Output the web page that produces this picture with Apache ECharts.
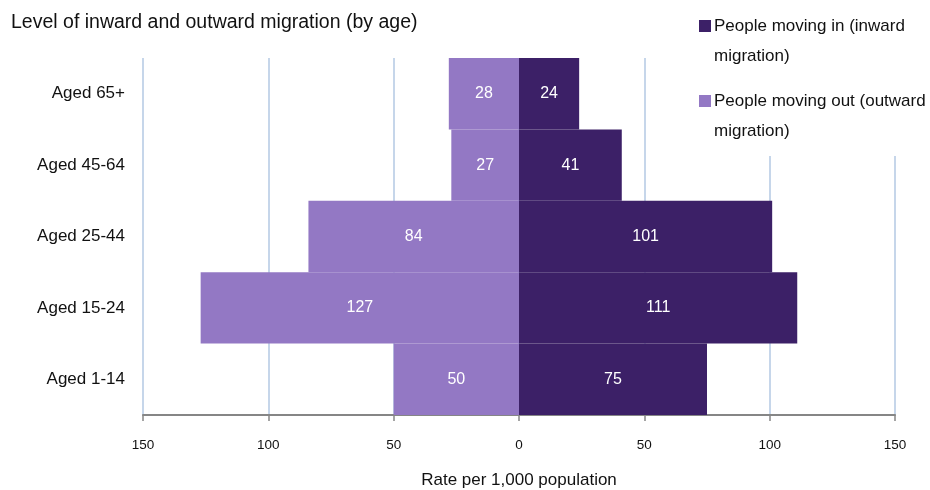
<!DOCTYPE html>
<html>
<head>
<meta charset="utf-8">
<script src="https://cdn.jsdelivr.net/npm/echarts@6/dist/echarts.min.js"></script>
<style>
  html, body { margin: 0; padding: 0; background: #fff; }
  #chart { width: 930px; height: 490px; }
</style>
</head>
<body>
<div id="chart"></div>
<script>
// Age bands, bottom to top
const ageGroups = ['Aged 1-14', 'Aged 15-24', 'Aged 25-44', 'Aged 45-64', 'Aged 65+'];
// Rate per 1,000 population
const movingIn = [75, 111, 101, 41, 24];
const movingOut = [50, 127, 84, 27, 28];
const xTicks = [-150, -100, -50, 0, 50, 100, 150];

const FONT = '"Liberation Sans", Arial, sans-serif';
const DARK = '#3c2067';
const LIGHT = '#9378c4';

const chart = echarts.init(document.getElementById('chart'), null, { renderer: 'canvas' });

// Legend labels wrap onto two lines; a blank leading line keeps the
// first line level with the colour swatch.
const legendText = {
  in: ' \nPeople moving in (inward\nmigration)',
  out: ' \nPeople moving out (outward\nmigration)'
};

chart.setOption({
  animation: false,
  textStyle: { fontFamily: FONT },
  title: {
    text: 'Level of inward and outward migration (by age)',
    left: 6,
    top: 8,
    textStyle: { fontFamily: FONT, fontSize: 19.5, fontWeight: 'normal', color: '#111' }
  },
  legend: {
    orient: 'vertical',
    left: 680,
    top: -29,
    itemWidth: 12,
    itemHeight: 12,
    itemGap: -15,
    backgroundColor: '#fff',
    padding: [10, 20, 10, 19],
    data: [
      { name: 'in', icon: 'rect' },
      { name: 'out', icon: 'rect' }
    ],
    formatter: n => legendText[n],
    textStyle: {
      fontFamily: FONT,
      fontSize: 17,
      color: '#111',
      lineHeight: 30,
      padding: [0, 0, 0, -2]
    }
  },
  grid: { left: 143, right: 35, top: 58, bottom: 75, outerBoundsMode: 'none', containLabel: false },
  xAxis: {
    type: 'value',
    min: xTicks[0],
    max: xTicks[xTicks.length - 1],
    interval: 50,
    name: 'Rate per 1,000 population',
    nameLocation: 'middle',
    nameGap: 57,
    nameTextStyle: { fontFamily: FONT, fontSize: 17, color: '#111' },
    axisLine: { show: true, lineStyle: { color: '#868686', width: 2 } },
    axisTick: { show: true, length: 6, lineStyle: { color: '#868686', width: 1.5 } },
    axisLabel: {
      fontFamily: FONT,
      fontSize: 13.5,
      color: '#111',
      margin: 23,
      formatter: v => String(Math.abs(v))
    },
    splitLine: { show: true, lineStyle: { color: '#c6d6ea', width: 2 } }
  },
  yAxis: {
    type: 'category',
    data: ageGroups,
    axisLine: { show: false },
    axisTick: { show: false },
    axisLabel: { fontFamily: FONT, fontSize: 17, color: '#111', margin: 18 },
    splitLine: { show: false }
  },
  series: [
    {
      name: 'out',
      type: 'bar',
      stack: 'rate',
      barWidth: '100%',
      data: movingOut.map(v => -v),
      itemStyle: { color: LIGHT },
      label: {
        show: true,
        position: 'inside',
        fontFamily: FONT,
        fontSize: 16,
        color: '#fff',
        formatter: p => String(Math.abs(p.value))
      }
    },
    {
      name: 'in',
      type: 'bar',
      stack: 'rate',
      barWidth: '100%',
      data: movingIn,
      itemStyle: { color: DARK },
      label: {
        show: true,
        position: 'inside',
        fontFamily: FONT,
        fontSize: 16,
        color: '#fff',
        formatter: p => String(p.value)
      }
    }
  ]
});
</script>
</body>
</html>
